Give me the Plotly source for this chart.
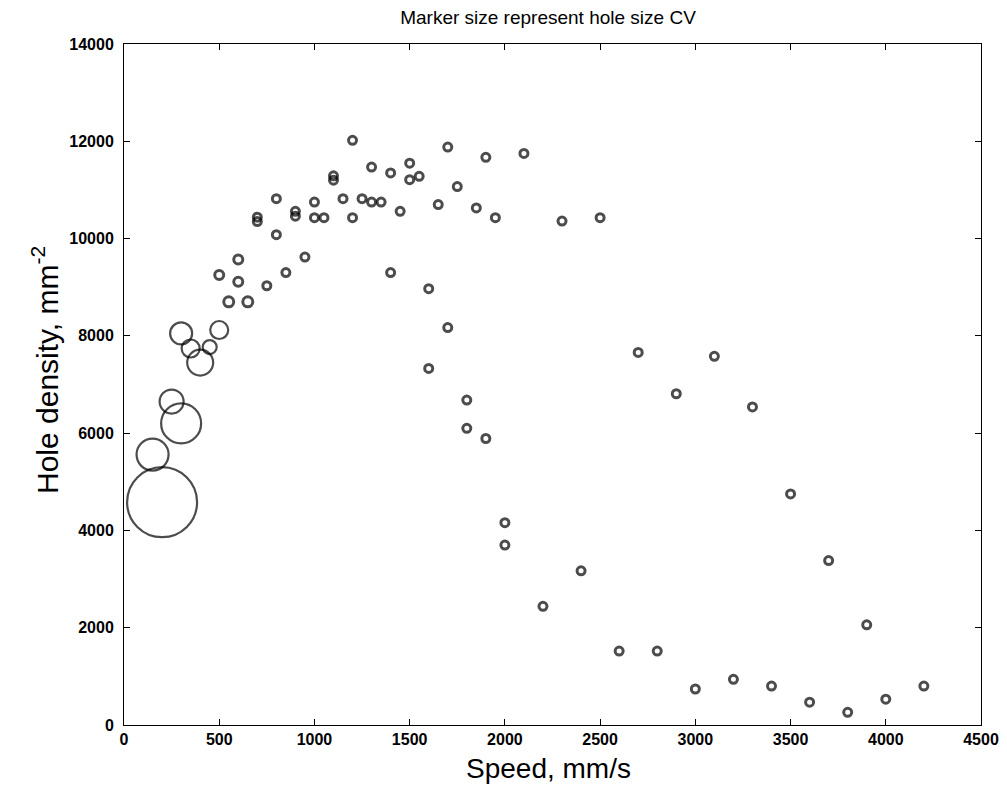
import plotly.graph_objects as go

# Speed (mm/s), hole density (mm^-2), hole size CV (marker size, arbitrary units)
speed = [200, 150, 300, 250, 400, 350, 300, 450, 500, 550, 650,
         500, 600, 600, 750, 850, 950, 800, 800, 700, 700, 900, 900,
         1000, 1000, 1050, 1100, 1100, 1150, 1200, 1200, 1250, 1300, 1300,
         1350, 1400, 1400, 1450, 1500, 1500, 1550, 1650, 1700, 1750, 1850,
         1900, 1950, 2100, 2300, 2500, 1600, 1700, 1600, 1800, 1800, 1900,
         2000, 2000, 2200, 2400, 2600, 2700, 2800, 2900, 3000, 3100, 3200,
         3300, 3400, 3500, 3600, 3700, 3800, 3900, 4000, 4200]
density = [4580, 5560, 6200, 6650, 7450, 7740, 8050, 7770, 8120, 8700, 8700,
           9250, 9110, 9570, 9030, 9300, 9620, 10080, 10820, 10350, 10440, 10460, 10560,
           10750, 10430, 10430, 11200, 11290, 10820, 12020, 10430, 10820, 11470, 10750,
           10750, 11350, 9300, 10560, 11550, 11210, 11280, 10700, 11880, 11070, 10630,
           11670, 10430, 11750, 10360, 10430, 8970, 8170, 7330, 6680, 6100, 5890,
           4160, 3700, 2440, 3170, 1520, 7660, 1520, 6810, 740, 7580, 940,
           6540, 800, 4750, 470, 3380, 260, 2060, 530, 800]
cv = [70, 32, 40, 24, 26, 18, 22, 14, 18, 10, 10,
      9, 9, 9, 8, 8, 8, 8, 8, 8, 8, 8, 8,
      8, 8, 8, 8, 8, 8, 8, 8, 8, 8, 8,
      8, 8, 8, 8, 8, 8, 8, 8, 8, 8, 8,
      8, 8, 8, 8, 8, 8, 8, 8, 8, 8, 8,
      8, 8, 8, 8, 8, 8, 8, 8, 8, 8, 8,
      8, 8, 8, 8, 8, 8, 8, 8, 8]

x_ticks = list(range(0, 4501, 500))
y_ticks = list(range(0, 14001, 2000))

line_w = [3.0 if c <= 10 else 2.2 for c in cv]

fig = go.Figure(go.Scatter(
    x=speed, y=density, mode="markers",
    marker=dict(size=cv, sizemode="diameter", sizeref=1,
                symbol="circle-open", color="black",
                line=dict(color="black", width=line_w)),
    hoverinfo="x+y",
))

FONT = "Liberation Sans, Arial, sans-serif"
tickfont = dict(family=FONT, size=16, color="black", weight="bold")
axcommon = dict(showgrid=False, zeroline=False, showline=True, linecolor="black", linewidth=1,
                mirror="ticks", ticks="inside", ticklen=6, tickwidth=1, tickcolor="black",
                tickfont=tickfont, automargin=False)

fig.update_xaxes(range=[0, 4500], tickvals=x_ticks, ticktext=[str(v) for v in x_ticks], **axcommon)
fig.update_yaxes(range=[0, 14000], tickvals=y_ticks, ticktext=[str(v) for v in y_ticks],
                 ticklabelstandoff=6, **axcommon)

W, H = 999, 781
L, R, T, B = 116, 26, 36, 64
PW, PH = W - L - R, H - T - B
OFF = 8  # page offset of the figure

def px_x(page_x):
    return (page_x - OFF - L) / PW

def px_y(page_y):
    return (H - B - (page_y - OFF)) / PH

fig.update_layout(
    width=W, height=H,
    margin=dict(l=L, r=R, t=T, b=B),
    plot_bgcolor="white", paper_bgcolor="white",
    showlegend=False,
    title=dict(text="Marker size represent hole size CV", x=(548 - OFF) / W, xanchor="center",
               y=1 - (17 - OFF) / H, yanchor="middle",
               font=dict(family=FONT, size=19, color="black")),
    annotations=[
        dict(text="Speed, mm/s", xref="paper", yref="paper", x=px_x(548), y=px_y(768),
             xanchor="center", yanchor="middle", showarrow=False,
             font=dict(family=FONT, size=28, color="black")),
        dict(text="Hole density, mm<sup>-2</sup>", xref="paper", yref="paper",
             x=px_x(45), y=px_y(370), textangle=-90,
             xanchor="center", yanchor="middle", showarrow=False,
             font=dict(family=FONT, size=30, color="black")),
    ],
)

fig.write_html("out.html")
